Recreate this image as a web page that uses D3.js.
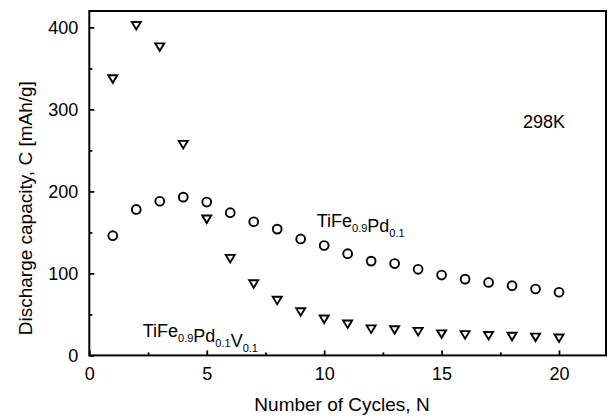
<!DOCTYPE html>
<html>
<head>
<meta charset="utf-8">
<script src="https://cdn.jsdelivr.net/npm/d3@7"></script>
<style>
  html, body { margin: 0; padding: 0; background: #fff; }
  svg text { font-family: "Liberation Sans", Arial, Helvetica, sans-serif; fill: #000; }
</style>
</head>
<body>
<svg id="chart" width="613" height="420"></svg>
<script>
// ---- data ----
const cycles = [1,2,3,4,5,6,7,8,9,10,11,12,13,14,15,16,17,18,19,20];
const pdValues = [146,178,188,193,187,174,163,154,142,134,124,115,112,105,98,93,89,85,81,77];   // TiFe0.9Pd0.1 (circles)
const pdvValues = [337,402,376,257,166,118,87,67,53,44,38,32,31,29,26,25,24,23,22,21];        // TiFe0.9Pd0.1V0.1 (triangles)
const xTicks = [0,5,10,15,20];
const xMinorTicks = [2.5,7.5,12.5,17.5];
const yTicks = [0,100,200,300,400];
const yMinorTicks = [50,150,250,350];
const xTitle = "Number of Cycles, N";
const yTitle = "Discharge capacity, C [mAh/g]";
const tempLabel = "298K";

// ---- layout ----
const svg = d3.select("#chart");
const L = 89.3, R = 606, T = 11, B = 355.4;
const x = d3.scaleLinear().domain([0, 22]).range([L, R]);
const y = d3.scaleLinear().domain([0, 420]).range([B, T]);

// frame
svg.append("rect").attr("x", L).attr("y", T).attr("width", R - L).attr("height", B - T)
  .attr("fill", "none").attr("stroke", "#000").attr("stroke-width", 2);

// x axis (ticks inward)
const xAxis = d3.axisBottom(x).tickValues(xTicks).tickSizeInner(-5).tickSizeOuter(0).tickPadding(12);
const gx = svg.append("g").attr("transform", `translate(0,${B})`).call(xAxis);
gx.select(".domain").remove();
gx.selectAll(".tick line").attr("stroke", "#000").attr("stroke-width", 1.8);
gx.selectAll(".tick text").attr("font-size", 18).attr("font-family", '"Liberation Sans", Arial, sans-serif');
const gxm = svg.append("g").attr("transform", `translate(0,${B})`)
  .call(d3.axisBottom(x).tickValues(xMinorTicks).tickSizeInner(-3).tickSizeOuter(0).tickFormat(""));
gxm.select(".domain").remove();
gxm.selectAll(".tick line").attr("stroke", "#000").attr("stroke-width", 1.8);

// y axis
const yAxis = d3.axisLeft(y).tickValues(yTicks).tickSizeInner(-5).tickSizeOuter(0).tickPadding(11);
const gy = svg.append("g").attr("transform", `translate(${L},0)`).call(yAxis);
gy.select(".domain").remove();
gy.selectAll(".tick line").attr("stroke", "#000").attr("stroke-width", 1.8);
gy.selectAll(".tick text").attr("font-size", 18).attr("font-family", '"Liberation Sans", Arial, sans-serif');
const gym = svg.append("g").attr("transform", `translate(${L},0)`)
  .call(d3.axisLeft(y).tickValues(yMinorTicks).tickSizeInner(-3).tickSizeOuter(0).tickFormat(""));
gym.select(".domain").remove();
gym.selectAll(".tick line").attr("stroke", "#000").attr("stroke-width", 1.8);

// circles series
svg.append("g").selectAll("circle").data(cycles).join("circle")
  .attr("cx", d => x(d)).attr("cy", (d, i) => y(pdValues[i])).attr("r", 4.4)
  .attr("fill", "none").attr("stroke", "#000").attr("stroke-width", 1.9);

// triangle series (down-pointing)
const tw = 9, th = 7.5;
svg.append("g").selectAll("path").data(cycles).join("path")
  .attr("d", `M${-tw/2},${-th/2}L${tw/2},${-th/2}L0,${th/2}Z`)
  .attr("transform", (d, i) => `translate(${x(d)},${y(pdvValues[i])})`)
  .attr("fill", "none").attr("stroke", "#000").attr("stroke-width", 1.9).attr("stroke-linejoin", "miter");

// axis titles
svg.append("text").attr("x", 342).attr("y", 411).attr("text-anchor", "middle")
  .attr("font-size", 19).text(xTitle);
svg.append("text").attr("transform", `translate(32,${(T + B) / 2 + 25}) rotate(-90)`)
  .attr("text-anchor", "middle").attr("font-size", 19).text(yTitle);

// annotations
svg.append("text").attr("x", 523).attr("y", 128).attr("font-size", 18).text(tempLabel);

function formula(xp, yp, parts) {
  const t = svg.append("text").attr("x", xp).attr("y", yp).attr("font-size", 18);
  parts.forEach(p => {
    if (p.sub) {
      t.append("tspan").attr("font-size", 11).attr("dy", 5).text(p.t);
      t.append("tspan").attr("dy", -5).text("");
    } else {
      t.append("tspan").text(p.t);
    }
  });
}
formula(316.7, 227, [{t:"TiFe"},{t:"0.9",sub:true},{t:"Pd"},{t:"0.1",sub:true}]);
formula(142.7, 337, [{t:"TiFe"},{t:"0.9",sub:true},{t:"Pd"},{t:"0.1",sub:true},{t:"V"},{t:"0.1",sub:true}]);
</script>
</body>
</html>
